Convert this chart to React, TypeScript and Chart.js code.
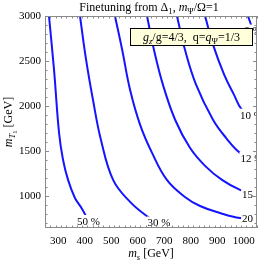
import { useEffect, useRef } from 'react';
import { Chart, registerables } from 'chart.js';

Chart.register(...registerables);

// ---- data ----
const contourLevels = ['50 %', '30 %', '20 %', '15 %', '12 %', '10 %', '8 %'];

const contour50 = [
  { x: 265, y: 3000 }, { x: 284, y: 2406 }, { x: 303, y: 1706 }, { x: 318, y: 1406 },
  { x: 337, y: 1183 }, { x: 363, y: 983 }, { x: 390, y: 861 }, { x: 414, y: 728 },
];
const contour30 = [
  { x: 382, y: 3000 }, { x: 405, y: 2517 }, { x: 431, y: 2072 }, { x: 461, y: 1628 },
  { x: 507, y: 1183 }, { x: 571, y: 939 }, { x: 639, y: 772 }, { x: 680, y: 711 },
];
const contour20 = [
  { x: 514, y: 3000 }, { x: 541, y: 2628 }, { x: 571, y: 2183 }, { x: 609, y: 1794 },
  { x: 654, y: 1483 }, { x: 710, y: 1183 }, { x: 778, y: 994 }, { x: 835, y: 894 },
  { x: 910, y: 817 }, { x: 986, y: 761 }, { x: 1037, y: 761 },
];
const contour15 = [
  { x: 635, y: 3000 }, { x: 661, y: 2628 }, { x: 695, y: 2239 }, { x: 741, y: 1850 },
  { x: 797, y: 1539 }, { x: 854, y: 1339 }, { x: 918, y: 1183 }, { x: 986, y: 1072 },
  { x: 1037, y: 1028 },
];
const contour12 = [
  { x: 748, y: 3000 }, { x: 778, y: 2628 }, { x: 820, y: 2239 }, { x: 884, y: 1850 },
  { x: 933, y: 1650 }, { x: 986, y: 1483 }, { x: 1031, y: 1428 },
];
const contour10 = [
  { x: 854, y: 3000 }, { x: 884, y: 2683 }, { x: 926, y: 2350 }, { x: 963, y: 2128 },
  { x: 993, y: 1961 }, { x: 1029, y: 1906 },
];
const contour8 = [
  { x: 1016, y: 3000 }, { x: 1035, y: 2839 },
];
const contours = [contour50, contour30, contour20, contour15, contour12, contour10, contour8];

const xTicks = [300, 400, 500, 600, 700, 800, 900, 1000];
const yTicks = [1000, 1500, 2000, 2500, 3000];
const xRange = [250, 1050];
const yRange = [650, 3000];

// ---- styling ----
const FONT = '"Liberation Serif", "DejaVu Serif", serif';
const LINE_COLOR = '#1414ff';

type Run = { t: string; i?: boolean; sub?: number };

function drawRuns(ctx: CanvasRenderingContext2D, runs: Run[], x: number, y: number, size: number, align: 'left' | 'center' = 'left') {
  const info = runs.map((r) => {
    const fs = r.sub === 2 ? size * 0.55 : r.sub === 1 ? size * 0.72 : size;
    const font = `${r.i ? 'italic ' : ''}${fs}px ${FONT}`;
    ctx.font = font;
    return { font, w: ctx.measureText(r.t).width, dy: r.sub === 2 ? size * 0.42 : r.sub === 1 ? size * 0.22 : 0 };
  });
  const total = info.reduce((a, b) => a + b.w, 0);
  let cx = align === 'center' ? x - total / 2 : x;
  ctx.textAlign = 'left';
  ctx.textBaseline = 'alphabetic';
  runs.forEach((r, k) => {
    ctx.font = info[k].font;
    ctx.fillText(r.t, cx, y + info[k].dy);
    cx += info[k].w;
  });
  return total;
}

const decorPlugin = {
  id: 'decor',
  afterDatasetsDraw(chart: any) {
    const { ctx, chartArea: a, scales } = chart;
    const xs = scales.x;
    const ys = scales.y;
    ctx.save();

    // contour labels at the end of each contour
    ctx.save();
    ctx.beginPath();
    ctx.rect(a.left, a.top, a.right - a.left, a.bottom - a.top);
    ctx.clip();
    ctx.font = `11px ${FONT}`;
    contours.forEach((c, i) => {
      const p = c[c.length - 1];
      const px = xs.getPixelForValue(p.x);
      const py = ys.getPixelForValue(p.y);
      const w = ctx.measureText(contourLevels[i]).width;
      ctx.fillStyle = '#ffffff';
      ctx.fillRect(px - w / 2 - 1, py - 6, w + 2, 12);
      ctx.fillStyle = '#000';
      ctx.textAlign = 'center';
      ctx.textBaseline = 'middle';
      ctx.fillText(contourLevels[i], px, py + 1);
    });
    ctx.restore();

    // frame
    ctx.strokeStyle = '#8a8a8a';
    ctx.lineWidth = 1;
    ctx.strokeRect(a.left + 0.5, a.top + 0.5, a.right - a.left - 1, a.bottom - a.top - 1);

    // ticks (inward, all four sides)
    ctx.beginPath();
    for (let v = xRange[0]; v <= xRange[1]; v += 20) {
      const major = v % 100 === 0;
      const len = major ? 4 : 2.5;
      const px = Math.round(xs.getPixelForValue(v)) + 0.5;
      ctx.moveTo(px, a.bottom); ctx.lineTo(px, a.bottom - len);
      ctx.moveTo(px, a.top); ctx.lineTo(px, a.top + len);
    }
    for (let v = 700; v <= yRange[1]; v += 100) {
      const major = v % 500 === 0;
      const len = major ? 4 : 2.5;
      const py = Math.round(ys.getPixelForValue(v)) + 0.5;
      ctx.moveTo(a.left, py); ctx.lineTo(a.left + len, py);
      ctx.moveTo(a.right, py); ctx.lineTo(a.right - len, py);
    }
    ctx.stroke();

    // legend box
    const bx = a.left + 85;
    const by = a.top + 12;
    const bw = 123;
    const bh = 18;
    ctx.fillStyle = '#ffffdc';
    ctx.fillRect(bx, by, bw, bh);
    ctx.strokeStyle = '#000';
    ctx.strokeRect(bx + 0.5, by + 0.5, bw - 1, bh - 1);
    ctx.fillStyle = '#000';
    drawRuns(ctx, [
      { t: 'g', i: true }, { t: 'z', i: true, sub: 1 }, { t: '/g=4/3,  q=' },
      { t: 'q', i: true }, { t: 'Ψ', sub: 1 }, { t: '=1/3' },
    ], bx + bw / 2, by + 13, 12, 'center');

    // title
    const cxm = (a.left + a.right) / 2;
    drawRuns(ctx, [
      { t: 'Finetuning from Δ' }, { t: '1', sub: 1 }, { t: ', ' },
      { t: 'm', i: true }, { t: 'Ψ', sub: 1 }, { t: '/Ω=1' },
    ], cxm - 2, 11, 12, 'center');

    // x title
    drawRuns(ctx, [{ t: 'm', i: true }, { t: 's', i: true, sub: 1 }, { t: ' [GeV]' }], cxm, 257, 12, 'center');

    // y title
    ctx.save();
    ctx.translate(12, (a.top + a.bottom) / 2);
    ctx.rotate(-Math.PI / 2);
    drawRuns(ctx, [{ t: 'm', i: true }, { t: 'T', i: true, sub: 1 }, { t: '1', sub: 2 }, { t: ' [GeV]' }], 0, 0, 12, 'center');
    ctx.restore();

    ctx.restore();
  },
};

export default function App() {
  const ref = useRef<HTMLCanvasElement | null>(null);
  useEffect(() => {
    if (!ref.current) return;
    const chart = new Chart(ref.current, {
      type: 'scatter',
      data: {
        datasets: contours.map((d, i) => ({
          label: contourLevels[i],
          data: d,
          showLine: true,
          borderColor: LINE_COLOR,
          backgroundColor: LINE_COLOR,
          borderWidth: 2,
          pointRadius: 0,
          tension: 0.4,
          clip: 0,
        })),
      },
      options: {
        animation: false,
        responsive: false,
        devicePixelRatio: 1,
        layout: { padding: { top: 16, right: 10, left: 0, bottom: 0 } },
        plugins: { legend: { display: false }, title: { display: false }, tooltip: { enabled: false } },
        scales: {
          x: {
            type: 'linear',
            min: xRange[0],
            max: xRange[1],
            grid: { display: false, drawTicks: false },
            border: { display: false },
            ticks: { font: { family: FONT, size: 11 }, color: '#000', padding: 7, maxRotation: 0, autoSkip: false, callback: (v: any) => String(v) },
            afterBuildTicks: (s: any) => { s.ticks = xTicks.map((v) => ({ value: v })); },
            afterFit: (s: any) => { s.height = 33; },
          },
          y: {
            type: 'linear',
            min: yRange[0],
            max: yRange[1],
            grid: { display: false, drawTicks: false },
            border: { display: false },
            ticks: { font: { family: FONT, size: 11 }, color: '#000', padding: 4, autoSkip: false, callback: (v: any) => String(v) },
            afterBuildTicks: (s: any) => { s.ticks = yTicks.map((v) => ({ value: v })); },
            afterFit: (s: any) => { s.width = 45; },
          },
        },
      } as any,
      plugins: [decorPlugin],
    });
    return () => chart.destroy();
  }, []);
  return (
    <div style={{ position: 'absolute', left: 0, top: 0, width: 267, height: 261, background: '#fff' }}>
      <canvas ref={ref} width={267} height={261} style={{ display: 'block', width: 267, height: 261 }} />
    </div>
  );
}
